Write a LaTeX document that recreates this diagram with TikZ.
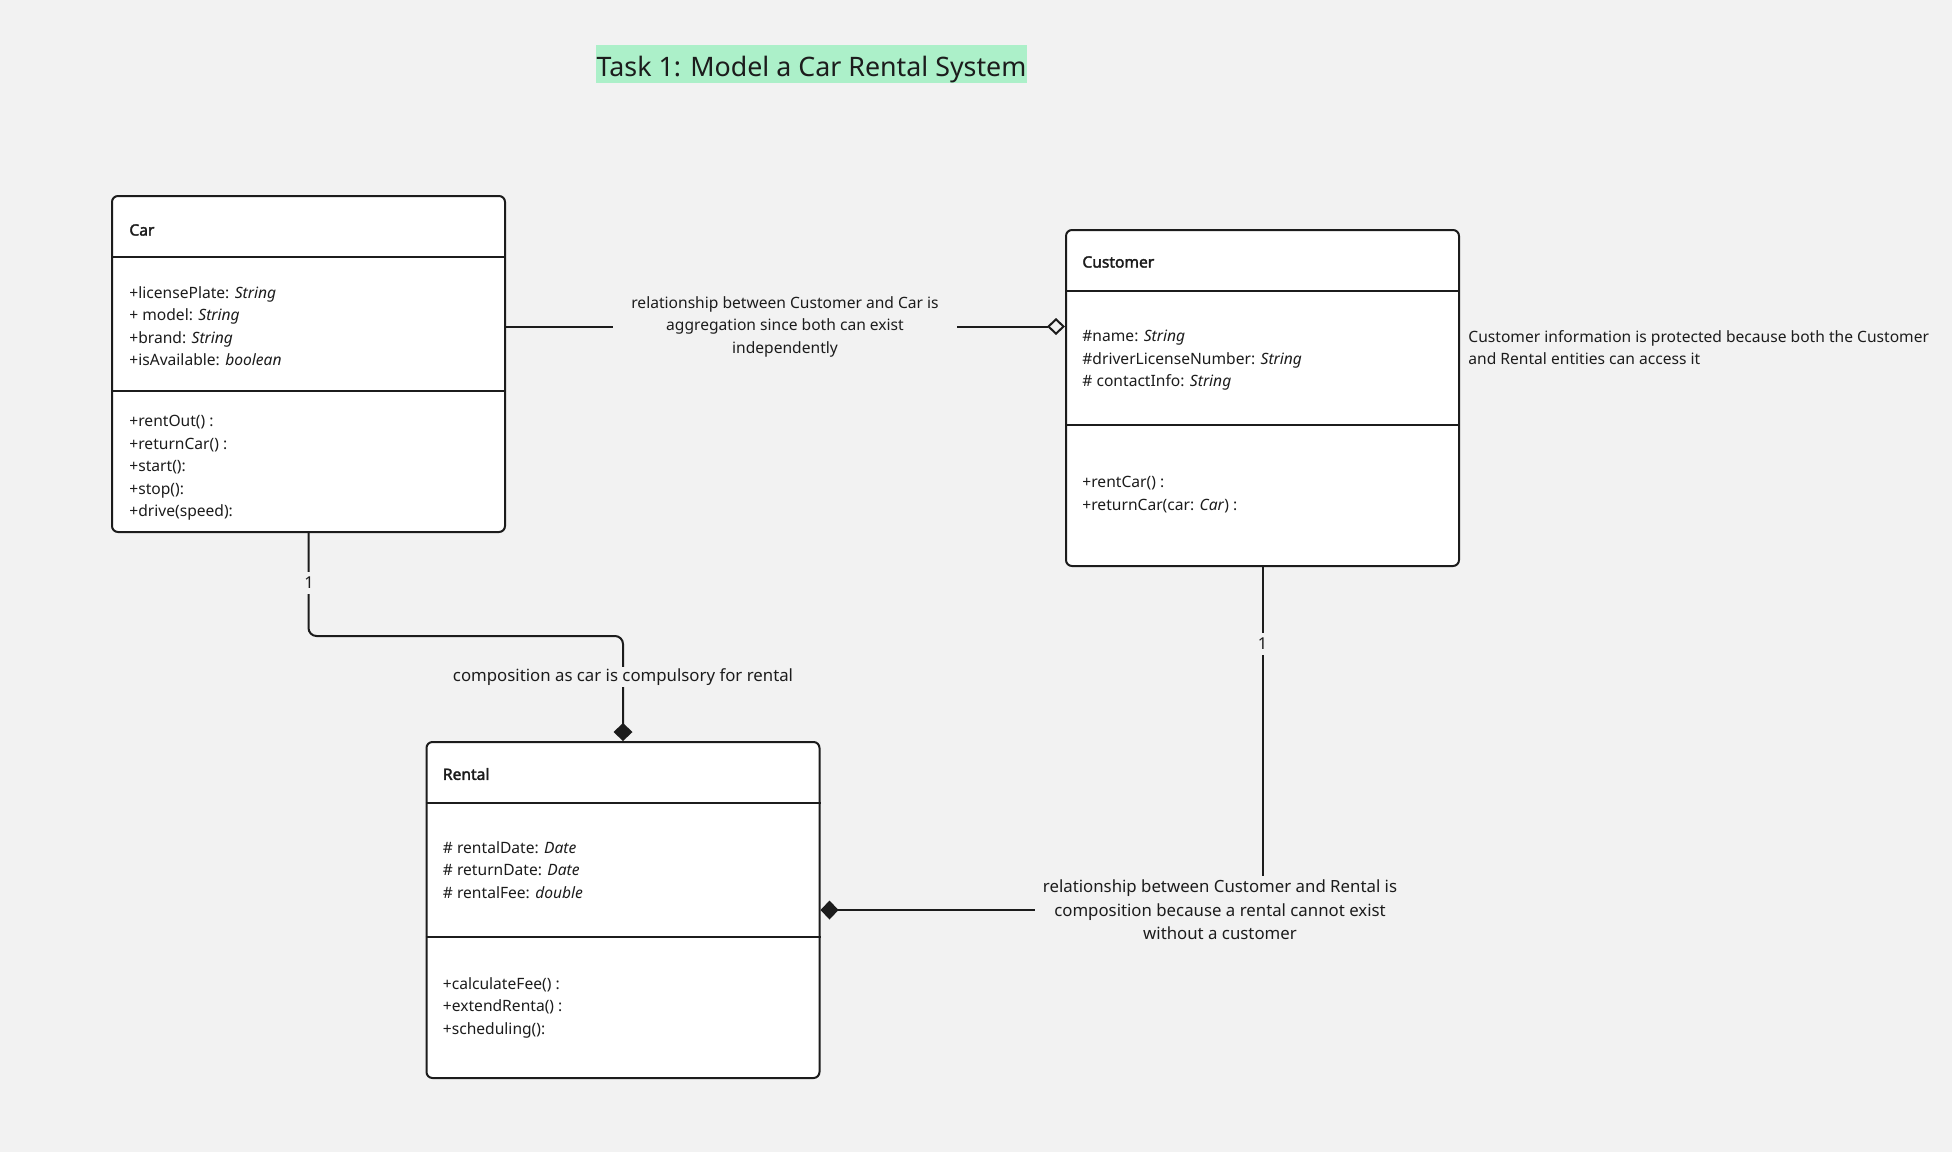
\documentclass[tikz,border=0pt]{standalone}
\usepackage{fontspec}
\setmainfont{Noto Sans}
\newfontfamily\namefont{Noto Sans}[FakeBold=2.2]
\usetikzlibrary{arrows.meta, calc}
\definecolor{Paper}{HTML}{F2F2F2}
\definecolor{Ink}{HTML}{1C1C1C}
\definecolor{Mint}{HTML}{ACF0C9}

\begin{document}
\begin{tikzpicture}[x=0.5pt, y=-0.5pt,
      umlclass/.style={draw=Ink, fill=white, line width=1pt, rounded corners=3pt,
                  minimum width=196.5pt, minimum height=168pt, inner sep=0pt},
      cname/.style={anchor=west, inner sep=0pt, text=Ink, font=\namefont\fontsize{7.8}{11}\selectfont},
      members/.style={anchor=north west, inner sep=0pt, align=left, text=Ink,
                  font=\fontsize{7.8}{11.25}\selectfont},
      divider/.style={draw=Ink, line width=1pt},
      note/.style={align=center, text=Ink, fill=Paper, font=\fontsize{7.8}{11.25}\selectfont},
      linklabel/.style={note, font=\fontsize{8.4}{11.8}\selectfont},
      mult/.style={fill=Paper, text=Ink, inner xsep=1pt, inner ysep=2.5pt, font=\fontsize{8.2}{10}\selectfont},
      link/.style={draw=Ink, line width=1pt},
      agg/.style={link, -{Diamond[open, length=9pt, width=8.5pt]}},
      comp/.style={link, -{Diamond[length=9pt, width=9.5pt]}}]

    \fill[Paper] (0,0) rectangle (1952,1152);
    \useasboundingbox (0,0) rectangle (1952,1152);

    \node[fill=Mint, text=Ink, inner xsep=0.5pt, inner ysep=0pt, minimum height=19pt,
          text height=12pt, text depth=0pt,
          font=\fontsize{13.4}{16}\selectfont] (title) at (811.5,64) {Task 1: Model a Car Rental System};

    % classes
    \node[umlclass] (car) at (308.5,364) {};
    \node[umlclass] (customer) at (1262.5,398) {};
    \node[umlclass] (rental) at (623,910) {};

    \foreach \c in {car, customer, rental} {
      \draw[divider] ($(\c.north west)+(0,62)$) -- ($(\c.north east)+(0,62)$);
      \draw[divider] ($(\c.north west)+(0,196)$) -- ($(\c.north east)+(0,196)$);
    }

    \node[cname] (carName) at ($(car.north west)+(18,35)$) {Car};
    \node[members] (carAttr) at ($(car.north west)+(18,91)$)
      {+licensePlate: \textit{String}\\+ model: \textit{String}\\+brand: \textit{String}\\+isAvailable: \textit{boolean}};
    \node[members] (carOps) at ($(car.north west)+(18,220)$)
      {+rentOut() :\\+returnCar() :\\+start():\\+stop():\\+drive(speed):};

    \node[cname] (custName) at ($(customer.north west)+(17,33)$) {Customer};
    \node[members] (custAttr) at ($(customer.north west)+(17,101)$)
      {\#name: \textit{String}\\\#driverLicenseNumber: \textit{String}\\\# contactInfo: \textit{String}};
    \node[members] (custOps) at ($(customer.north west)+(17,247)$)
      {+rentCar() :\\+returnCar(car: \textit{Car}) :};

    \node[cname] (rentName) at ($(rental.north west)+(17,33)$) {Rental};
    \node[members] (rentAttr) at ($(rental.north west)+(17,100)$)
      {\# rentalDate: \textit{Date}\\\# returnDate: \textit{Date}\\\# rentalFee: \textit{double}};
    \node[members] (rentOps) at ($(rental.north west)+(17,236)$)
      {+calculateFee() :\\+extendRenta() :\\+scheduling():};

    \node[members] (protNote) at (1468,330)
      {Customer information is protected because both the Customer\\and Rental entities can access it};

    % Customer -- Car: aggregation
    \node[note, inner xsep=9pt] (aggTxt) at (785,326.5)
      {relationship between Customer and Car is\\aggregation since both can exist\\independently};
    \draw[link] (car.east |- aggTxt) -- (aggTxt);
    \draw[agg] (aggTxt) -- (customer.west |- aggTxt);

    % Car -- Rental: composition
    \draw[comp, rounded corners=4pt] (car.south) |- ($(rental.north)+(0,-105)$) -- (rental.north);
    \node[mult] (carOne) at (309,583) {1};
    \node[linklabel, inner sep=1pt] (carRentTxt) at (623,677) {composition as car is compulsory for rental};

    % Customer -- Rental: composition
    \draw[comp] (customer.south) |- (rental.east);
    \node[mult] (custOne) at (1262.5,644) {1};
    \node[linklabel, inner xsep=4pt, inner ysep=2pt] (custRentTxt) at (1220,910)
      {relationship between Customer and Rental is\\composition because a rental cannot exist\\without a customer};
  \end{tikzpicture}
\end{document}
